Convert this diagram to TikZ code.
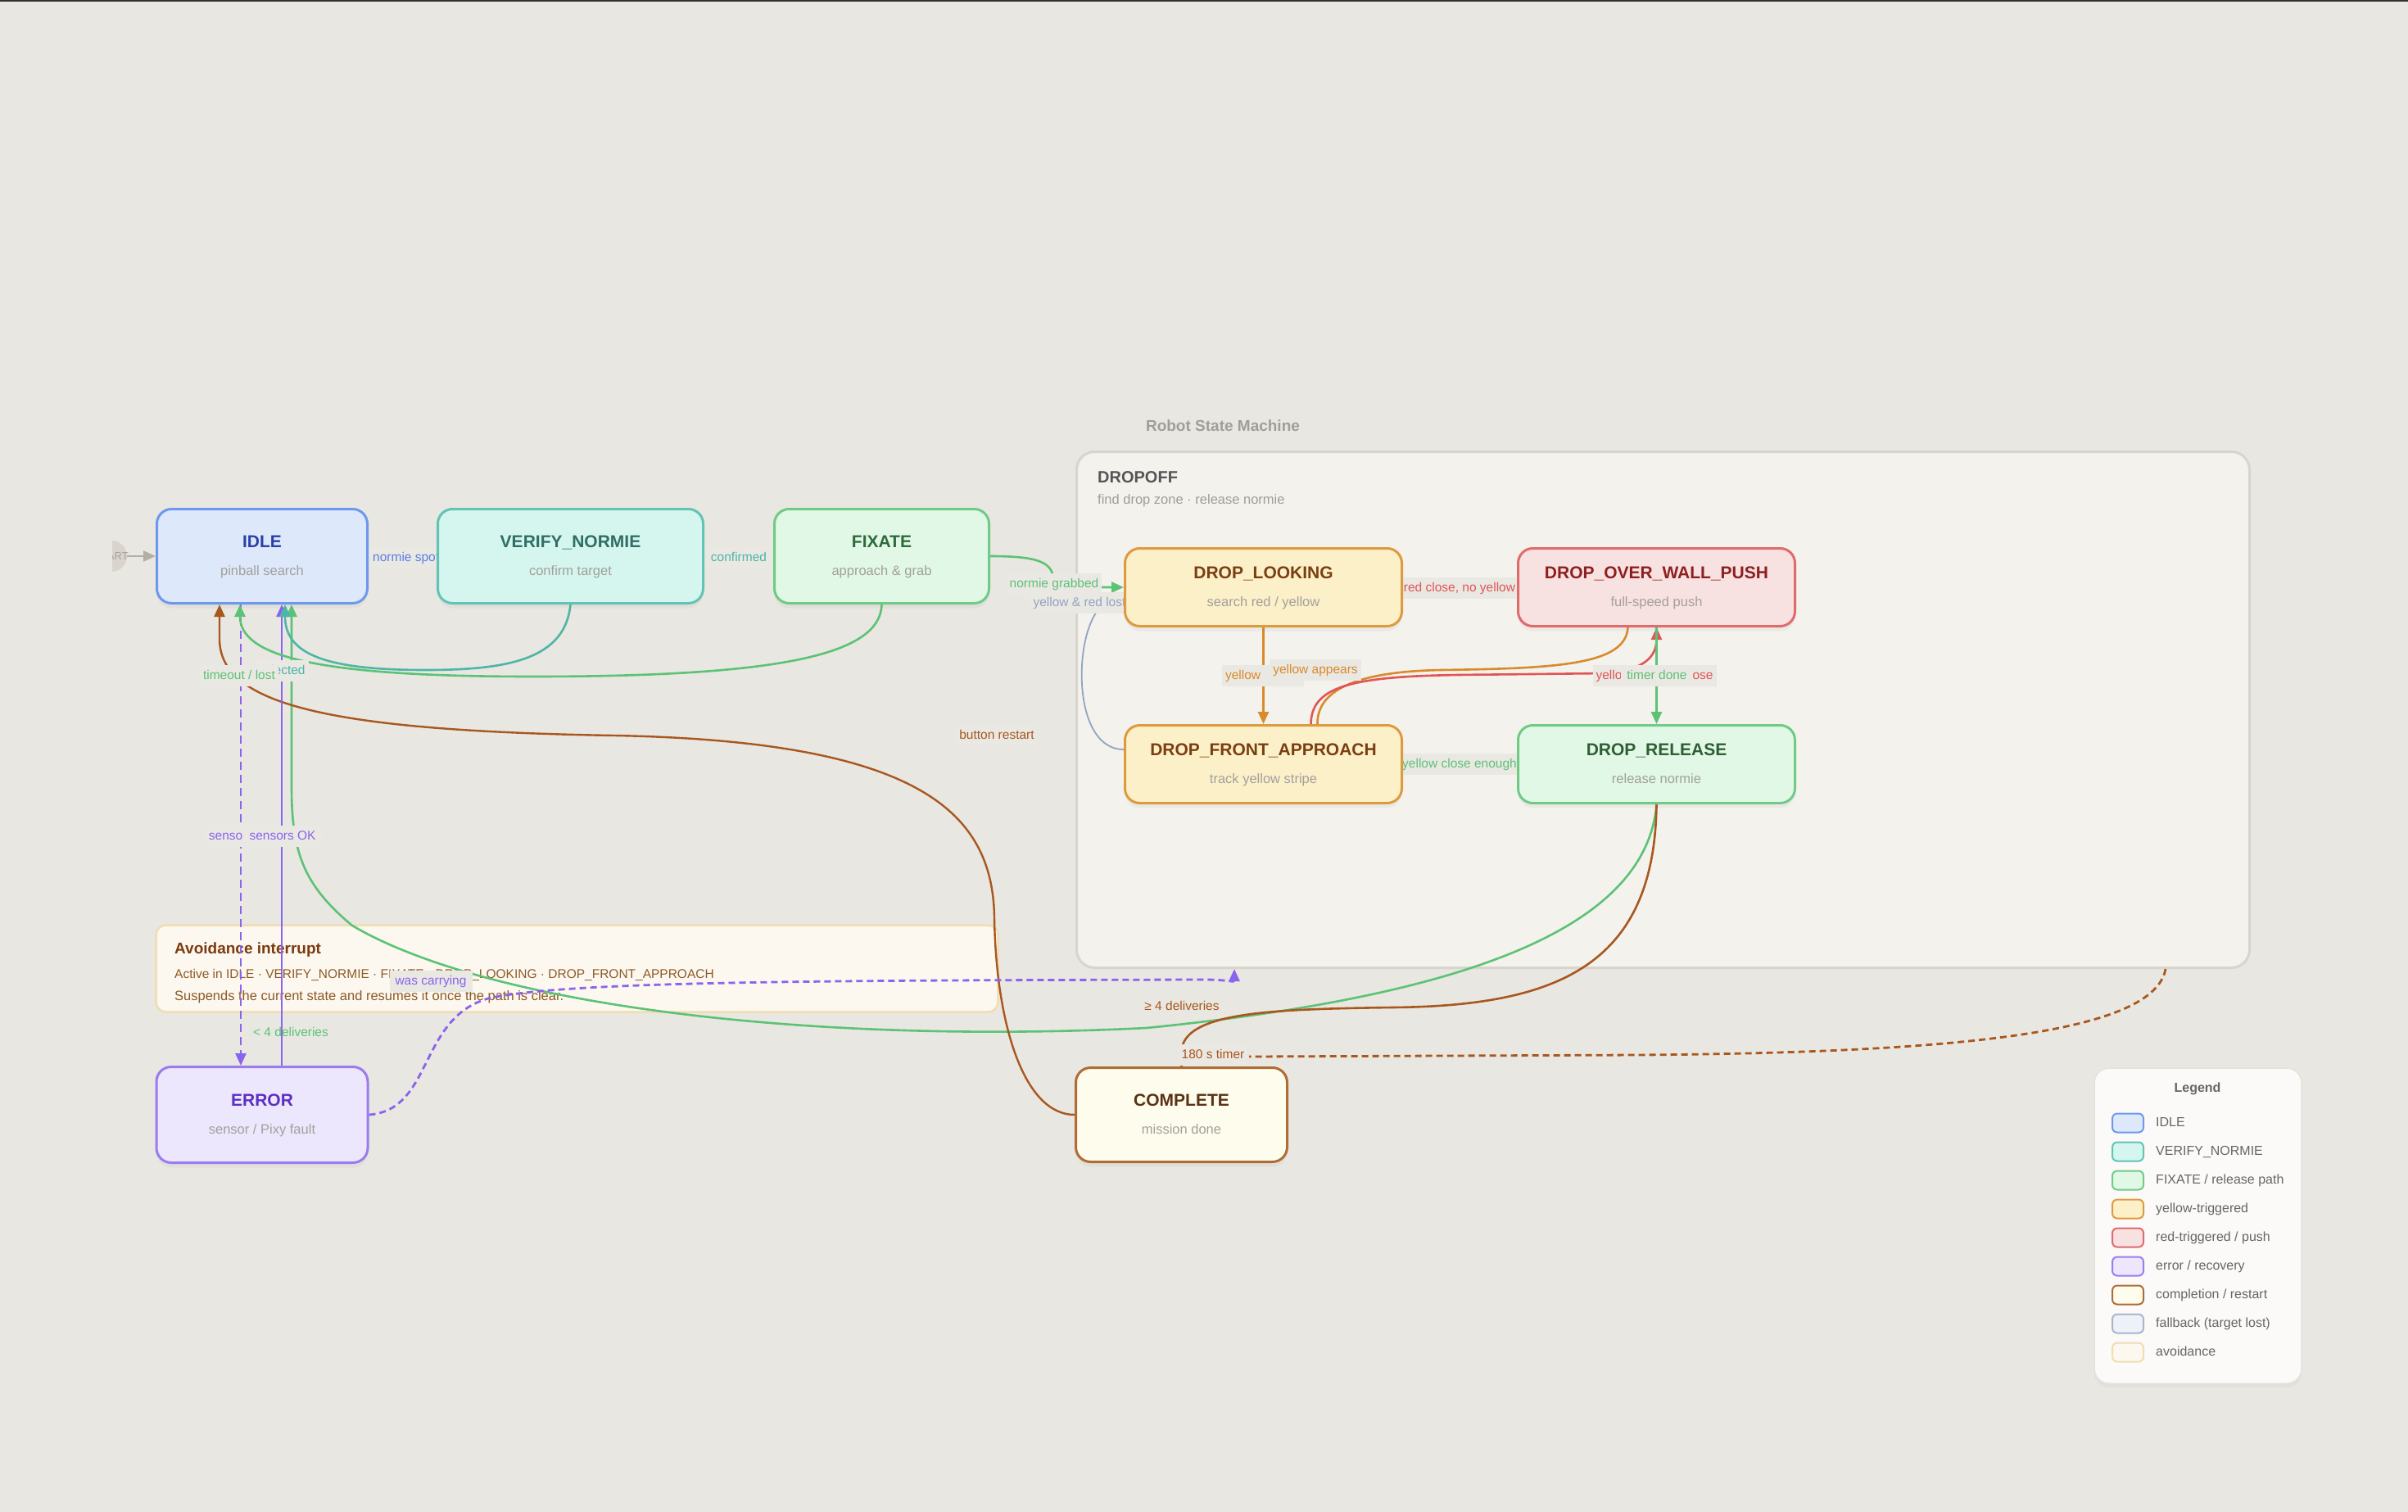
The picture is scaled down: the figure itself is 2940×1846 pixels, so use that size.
\documentclass[tikz,border=0pt]{standalone}
\usepackage{fontspec}
\setmainfont{Liberation Sans}
\usetikzlibrary{arrows.meta,shadows}

\definecolor{bgc}{HTML}{E9E7E1}
\definecolor{contF}{HTML}{F4F2ED}
\definecolor{contD}{HTML}{D8D5CF}
\definecolor{lblbg}{HTML}{EAE8E3}
\definecolor{subgray}{HTML}{A3A09B}
\definecolor{titlegray}{HTML}{A19D98}
\definecolor{darkgray}{HTML}{555555}
\definecolor{startF}{HTML}{D9D4CD}
\definecolor{startT}{HTML}{A8A29A}
\definecolor{startL}{HTML}{B4AEA5}
% state colours
\definecolor{idleF}{HTML}{DDE8FB}\definecolor{idleD}{HTML}{6E98EE}\definecolor{idleT}{HTML}{2B3FA8}
\definecolor{verF}{HTML}{D4F6EE}\definecolor{verD}{HTML}{62C4B3}\definecolor{verT}{HTML}{2F6E66}
\definecolor{fixF}{HTML}{E1F8E6}\definecolor{fixD}{HTML}{6FCB86}\definecolor{fixT}{HTML}{2E6B3C}
\definecolor{yelF}{HTML}{FCF0C9}\definecolor{yelD}{HTML}{DE9A3E}\definecolor{yelT}{HTML}{7A3E12}
\definecolor{redF}{HTML}{F8E1E1}\definecolor{redD}{HTML}{E06B6B}\definecolor{redT}{HTML}{8E1F1F}
\definecolor{relT}{HTML}{2F5E35}
\definecolor{errF}{HTML}{ECE7FC}\definecolor{errD}{HTML}{9C7BF0}\definecolor{errT}{HTML}{5B2FC2}
\definecolor{cmpF}{HTML}{FEFCEC}\definecolor{cmpD}{HTML}{B06C35}\definecolor{cmpT}{HTML}{5A3214}
\definecolor{fbF}{HTML}{EEF2F8}\definecolor{fbD}{HTML}{A8B6CC}
\definecolor{avF}{HTML}{FCF8F0}\definecolor{avD}{HTML}{F0DDB0}
\definecolor{avT}{HTML}{7A3A0E}\definecolor{avL}{HTML}{8D5A25}
% edge colours
\definecolor{eblue}{HTML}{5B7FE6}
\definecolor{eteal}{HTML}{4DB6A6}
\definecolor{egreen}{HTML}{5CC276}
\definecolor{eorange}{HTML}{D98A2B}
\definecolor{ered}{HTML}{E05555}
\definecolor{epurple}{HTML}{8A63EE}
\definecolor{ebrown}{HTML}{A8571F}
\definecolor{efall}{HTML}{93A3C3}
\definecolor{legT}{HTML}{666666}

\pgfdeclarelayer{bglayer}
\pgfdeclarelayer{edgelayer}
\pgfdeclarelayer{lbllayer}
\pgfsetlayers{bglayer,edgelayer,lbllayer,main}

\tikzset{
  statebox/.style={rounded corners=18pt, line width=3pt, inner sep=0pt,
    drop shadow={opacity=0.07, shadow xshift=0pt, shadow yshift=-6pt}},
  idlec/.style={fill=idleF, draw=idleD},
  verc/.style={fill=verF, draw=verD},
  fixc/.style={fill=fixF, draw=fixD},
  yelc/.style={fill=yelF, draw=yelD},
  redc/.style={fill=redF, draw=redD},
  errc/.style={fill=errF, draw=errD},
  cmpc/.style={fill=cmpF, draw=cmpD},
  fbc/.style={fill=fbF, draw=fbD},
  avc/.style={fill=avF, draw=avD},
  ttl/.style={font=\fontsize{21}{21}\selectfont\bfseries, text height=15pt, text depth=0pt, inner sep=0pt},
  subt/.style={font=\fontsize{16.5}{16.5}\selectfont, text=subgray, text height=12pt, text depth=0pt, inner sep=0pt},
  lbl/.style={font=\fontsize{15.5}{15.5}\selectfont, fill=lblbg, inner xsep=4pt, inner ysep=6pt, text height=11pt, text depth=3pt},
  lblnofill/.style={font=\fontsize{15.5}{15.5}\selectfont, inner sep=2pt, text height=11pt, text depth=3pt},
  conn/.style={line width=2.6pt, -{Triangle[length=15pt,width=13pt]}},
  plainc/.style={line width=2.6pt},
  lgsw/.style={rounded corners=6pt, line width=2pt, minimum width=38pt, minimum height=23pt, inner sep=0pt},
  lgtx/.style={font=\fontsize{16}{16}\selectfont, text=legT, anchor=west, inner sep=0pt, text height=12pt, text depth=3pt},
}

\newcommand{\mkstate}[9]{%
  \node[statebox,#6,minimum width=#4pt,minimum height=#5pt] (#1) at (#2,#3) {};
  \node[ttl,text=#7] (#1-t) at (#2,#3-18) {#8};
  \node[subt] (#1-s) at (#2,#3+17) {#9};
}

\begin{document}
\begin{tikzpicture}[x=1pt,y=-1pt]
\useasboundingbox (0,0) rectangle (2940,1846);

% ---------------- background layer ----------------
\begin{pgfonlayer}{bglayer}
  \fill[bgc] (0,0) rectangle (2940,1846);
  \fill[black!80] (0,0) rectangle (2940,2);
  \node[draw=contD, fill=contF, line width=3pt, rounded corners=22pt,
        minimum width=1432pt, minimum height=630pt, inner sep=0pt] (dropoff) at (2030.5,866.5) {};
  \node[font=\fontsize{19}{19}\selectfont\bfseries, text=titlegray] (rsm) at (1493,520) {Robot State Machine};
  \node[anchor=west, inner sep=0pt, font=\fontsize{20}{20}\selectfont\bfseries, text=darkgray] (dropoff-t) at (1340,583) {DROPOFF};
  \node[anchor=west, inner sep=0pt, font=\fontsize{16.5}{16.5}\selectfont, text=titlegray] (dropoff-s) at (1340,611) {find drop zone · release normie};

  \node[avc, line width=2.5pt, rounded corners=12pt, minimum width=1028pt, minimum height=106pt, inner sep=0pt] (avoid) at (704.5,1182.5) {};
  \node[anchor=west, inner sep=0pt, font=\fontsize{19}{19}\selectfont\bfseries, text=avT] (avoid-t) at (213,1160) {Avoidance interrupt};
  \node[anchor=west, inner sep=0pt, font=\fontsize{15.5}{15.5}\selectfont, text=avL] (avoid-l1) at (213,1190) {Active in IDLE · VERIFY\_NORMIE · FIXATE · DROP\_LOOKING · DROP\_FRONT\_APPROACH};
  \node[anchor=west, inner sep=0pt, font=\fontsize{16.5}{16.5}\selectfont, text=avL] (avoid-l2) at (213,1217) {Suspends the current state and resumes it once the path is clear.};

  \begin{scope}
    \clip (137,600) rectangle (200,760);
    \node[circle, fill=startF, minimum size=38pt, inner sep=0pt] (start) at (136,679) {};
    \node[font=\fontsize{13}{13}\selectfont, text=startT, inner sep=0pt] (start-t) at (136,679) {START};
  \end{scope}
\end{pgfonlayer}

% ---------------- states ----------------
\mkstate{idle}{320}{679}{257}{115}{idlec}{idleT}{IDLE}{pinball search}
\mkstate{verify}{696.5}{679}{324}{115}{verc}{verT}{VERIFY\_NORMIE}{confirm target}
\mkstate{fixate}{1076.5}{679}{262}{115}{fixc}{fixT}{FIXATE}{approach \& grab}
\mkstate{dl}{1542.5}{717}{338}{95}{yelc}{yelT}{DROP\_LOOKING}{search red / yellow}
\mkstate{dowp}{2022.5}{717}{338}{95}{redc}{redT}{DROP\_OVER\_WALL\_PUSH}{full-speed push}
\mkstate{dfa}{1542.5}{933}{338}{95}{yelc}{yelT}{DROP\_FRONT\_APPROACH}{track yellow stripe}
\mkstate{dr}{2022.5}{933}{338}{95}{fixc}{relT}{DROP\_RELEASE}{release normie}
\mkstate{error}{320}{1361}{258}{117}{errc}{errT}{ERROR}{sensor / Pixy fault}
\mkstate{complete}{1442.5}{1361}{258}{115}{cmpc}{cmpT}{COMPLETE}{mission done}

% ---------------- legend ----------------
\node[fill=white!60!contF, draw=contD!70, line width=1.5pt, rounded corners=18pt,
      minimum width=253pt, minimum height=385pt, inner sep=0pt,
      drop shadow={opacity=0.06, shadow xshift=0pt, shadow yshift=-5pt}] (legend) at (2683.5,1496.5) {};
\node[font=\fontsize{16}{16}\selectfont\bfseries, text=legT] (legend-t) at (2683,1329) {Legend};
\foreach \i/\st/\tx in {0/idlec/{IDLE}, 1/verc/{VERIFY\_NORMIE}, 2/fixc/{FIXATE / release path},
    3/yelc/{yellow-triggered}, 4/redc/{red-triggered / push}, 5/errc/{error / recovery},
    6/cmpc/{completion / restart}, 7/fbc/{fallback (target lost)}, 8/avc/{avoidance}} {
  \node[lgsw,\st] (lg-sw-\i) at (2598,1371+35*\i) {};
  \node[lgtx] (lg-t-\i) at (2632,1371+35*\i) {\tx};
}

% ---------------- edges ----------------
\begin{pgfonlayer}{edgelayer}
  \draw[conn, startL, line width=2.4pt] (start.east) -- (idle.west);
  \draw[conn, eblue] (idle.east) -- (verify.west);
  \draw[conn, eteal] (verify.east) -- (fixate.west);
  \draw[conn, egreen] (fixate.east) .. controls (1280,679) and (1287,690) .. (1287,717) -- (dl.west);
  \draw[conn, efall, line width=1.8pt] ([yshift=18pt]dfa.west) .. controls (1300,915) and (1312,736) .. ([yshift=-18pt]dl.west);
  \draw[conn, ered] (dl.east) -- (dowp.west);
  \draw[conn, eorange] (dl.south) -- (dfa.north);
  \draw[plainc, eorange] ([xshift=-35pt]dowp.south) .. controls (1985,812) and (1900,816) .. (1760,818)
        .. controls (1640,820) and (1608,850) .. ([xshift=66pt]dfa.north);
  \draw[conn, ered] ([xshift=58pt]dfa.north) .. controls (1601,838) and (1650,826) .. (1780,824)
        -- (1960,822) .. controls (2010,818) and (2022.5,800) .. (dowp.south);
  \draw[conn, egreen] (dowp.south) -- (dr.north);
  \draw[conn, egreen] (dfa.east) -- (dr.west);
  % DROP_RELEASE -> IDLE
  \draw[conn, egreen] (dr.south) .. controls (2010,1130) and (1800,1215) .. (1400,1255)
        .. controls (1000,1275) and (600,1230) .. (430,1130)
        .. controls (370,1080) and (356,1040) .. (356,960) -- ([xshift=36pt]idle.south);
  % DROP_RELEASE -> COMPLETE
  \draw[plainc, ebrown] (dr.south) .. controls (2020,1180) and (1900,1228) .. (1700,1230)
        .. controls (1560,1232) and (1450,1235) .. (1443,1280) -- (complete.north);
  % COMPLETE -> IDLE
  \draw[conn, ebrown, line width=2.4pt] (complete.west) .. controls (1250,1361) and (1216,1250) .. (1214,1120)
        .. controls (1212,990) and (1120,905) .. (750,898)
        .. controls (400,892) and (268,860) .. (268,780) -- ([xshift=-52pt]idle.south);
  % IDLE <-> ERROR
  \draw[conn, epurple, line width=2.4pt, dash pattern=on 10pt off 6pt] ([xshift=-26pt]idle.south) -- ([xshift=-26pt]error.north);
  \draw[conn, epurple, line width=2.4pt] ([xshift=24pt]error.north) -- ([xshift=24pt]idle.south);
  % FIXATE -> IDLE
  \draw[conn, egreen] (fixate.south) .. controls (1075,800) and (950,826) .. (650,826)
        .. controls (380,826) and (293,800) .. ([xshift=-27pt]idle.south);
  % VERIFY -> IDLE
  \draw[conn, eteal] (verify.south) .. controls (690,805) and (620,818) .. (520,818)
        .. controls (400,818) and (348,800) .. ([xshift=28pt]idle.south);
  % ERROR -> DROPOFF
  \draw[conn, epurple, line width=2.8pt, dash pattern=on 8pt off 5pt] (error.east) .. controls (530,1355) and (510,1240) .. (600,1218)
        .. controls (700,1198) and (1000,1197) .. (1470,1196)
        .. controls (1500,1196) and (1507,1200) .. ([xshift=-523.5pt]dropoff.south);
  % DROPOFF -> COMPLETE (timer)
  \coordinate (t180) at (1525,1290);
  \draw[plainc, ebrown, line width=2.8pt, dash pattern=on 8pt off 5pt] ([xshift=613.5pt]dropoff.south) .. controls (2630,1260) and (2400,1285) .. (2000,1288) -- (t180);
\end{pgfonlayer}

% ---------------- labels ----------------
\begin{pgfonlayer}{lbllayer}
  \node[lbl, text=eblue, anchor=west, inner xsep=7pt] (l-spot) at (448,681) {normie spotted};
  \node[lbl, text=eteal, minimum width=84pt] (l-conf) at (902,681) {confirmed};
  \node[lbl, text=egreen] (l-grab) at (1287,713) {normie grabbed};
  \node[lbl, text=efall] (l-lost) at (1318,736) {yellow \& red lost};
  \node[lbl, text=ered, minimum width=140pt] (l-redc) at (1782,718) {red close, no yellow};
  \node[lbl, text=egreen, minimum width=140pt] (l-yce) at (1782,933) {yellow close enough};
  \node[lbl, text=eorange] (l-yel) at (1542,825) {\makebox[92pt][l]{yellow}};
  \node[lbl, text=eorange] (l-yapp) at (1606,818) {yellow appears};
  \node[lbl, text=ered] (l-ylrc) at (2020,825) {yellow lost, red close};
  \node[lbl, text=egreen, inner xsep=7pt] (l-timer) at (2023,825) {timer done};
  \node[lbl, text=ebrown] (l-btn) at (1217,898) {button restart};
  \node[lbl, text=eteal] (l-rej) at (345,819) {rejected};
  \node[lbl, text=egreen] (l-tout) at (292,825) {timeout / lost};
  \node[lbl, text=epurple] (l-sf) at (295,1021) {sensor fault};
  \node[lbl, text=epurple, inner xsep=8pt] (l-sok) at (345,1021) {sensors OK};
  \node[lblnofill, text=egreen] (l-lt4) at (355,1261) {< 4 deliveries};
  \node[lblnofill, text=ebrown] (l-ge4) at (1443,1229) {≥ 4 deliveries};
  \node[lbl, text=ebrown] (l-180) at (1481,1288) {180 s timer};
  \node[lbl, text=epurple, inner xsep=7pt] (l-carry) at (526,1198) {was carrying};
\end{pgfonlayer}
\end{tikzpicture}
\end{document}
